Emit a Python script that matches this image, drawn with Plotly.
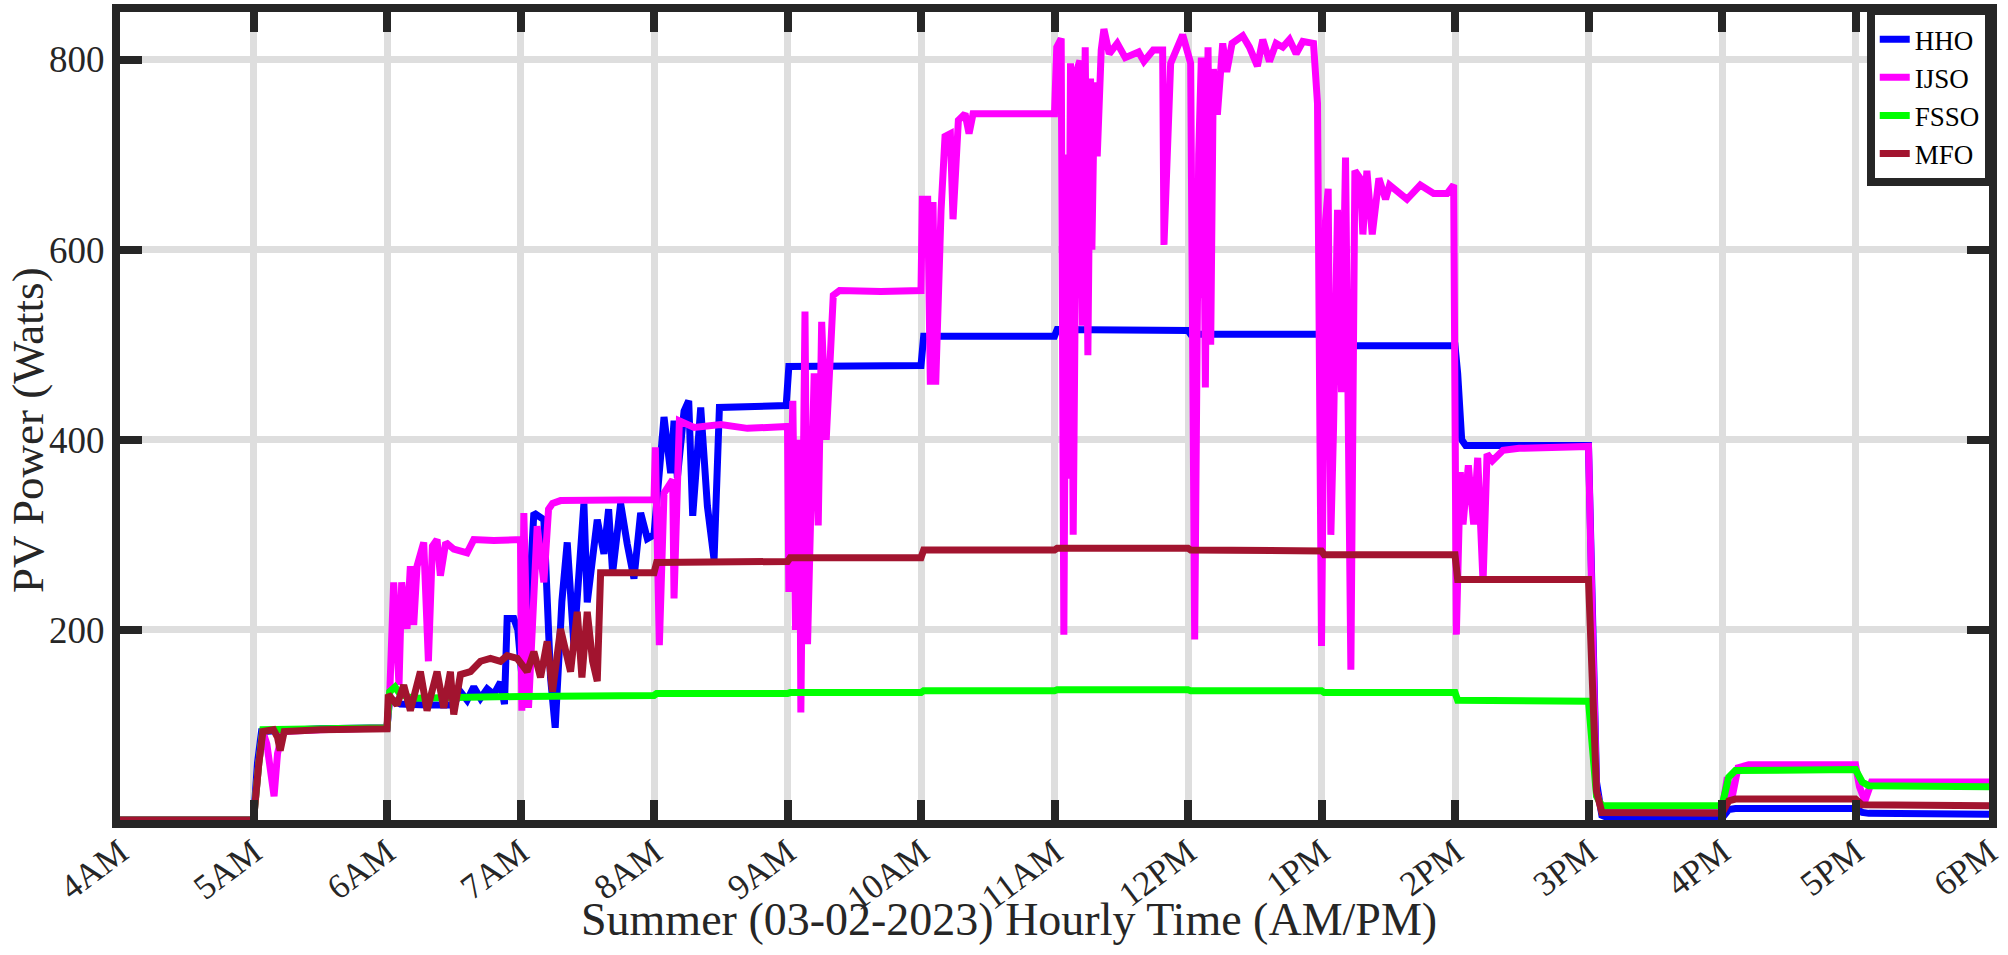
import plotly.graph_objects as go

# ---- data (hour of day, watts) ----
tick_hours = [4, 5, 6, 7, 8, 9, 10, 11, 12, 13, 14, 15, 16, 17, 18]
tick_labels = ["4AM", "5AM", "6AM", "7AM", "8AM", "9AM", "10AM", "11AM",
               "12PM", "1PM", "2PM", "3PM", "4PM", "5PM", "6PM"]
y_ticks = [200, 400, 600, 800]

hho_t = [4.0, 5.0, 5.03, 5.06, 5.5, 6.0, 6.02, 6.1, 6.3, 6.5, 6.55, 6.6, 6.65, 6.7, 6.75,
         6.8, 6.85, 6.88, 6.9, 6.95, 6.98, 7.025, 7.1, 7.175, 7.225, 7.26, 7.31, 7.35,
         7.4, 7.475, 7.5, 7.575, 7.625, 7.66, 7.69, 7.75, 7.8, 7.85, 7.9, 7.95, 8.0,
         8.04, 8.075, 8.125, 8.15, 8.175, 8.225, 8.26, 8.29, 8.35, 8.4, 8.45, 8.49,
         8.99, 9.01, 10.0, 10.02, 11.0, 11.02, 12.0, 12.02, 13.0, 13.02, 14.0, 14.02,
         14.05, 14.08, 15.0, 15.03, 15.06, 15.1, 15.15, 16.0, 16.05, 16.1, 17.0, 17.05,
         17.1, 18.0]
hho_v = [0, 0, 60, 93, 96, 97, 128, 122, 121, 121, 135, 126, 140, 128, 138,
         132, 145, 122, 212, 212, 200, 128, 323, 316, 150, 97, 230, 292,
         184, 333, 229, 316, 280, 327, 260, 333, 290, 254, 323, 296, 300,
         370, 424, 365, 420, 360, 430, 441, 320, 434, 330, 274, 434,
         436, 477, 478, 509, 509, 516, 515, 511, 511, 499, 499, 470,
         400, 394, 394, 200, 40, 5, 2, 2, 11, 12, 12, 8,
         7, 6]

ijso_t = [4.0, 5.0, 5.04, 5.07, 5.1, 5.154, 5.18, 5.22, 5.5, 6.0,
          6.02, 6.05, 6.09, 6.11, 6.15, 6.175, 6.2, 6.225, 6.275, 6.31, 6.34, 6.375,
          6.4, 6.44, 6.5, 6.6, 6.65, 6.8, 7.0,
          7.01, 7.025, 7.06, 7.125, 7.175, 7.21, 7.24, 7.3, 7.6, 8.0,
          8.01, 8.04, 8.075, 8.14, 8.15, 8.19, 8.3, 8.5, 8.7, 9.0,
          9.01, 9.04, 9.06, 9.09, 9.1, 9.12, 9.131, 9.15, 9.2, 9.23, 9.256, 9.29,
          9.343, 9.39, 9.7, 10.0,
          10.01, 10.05, 10.07, 10.09, 10.11, 10.15, 10.18, 10.22, 10.24, 10.28,
          10.33, 10.36, 10.39, 10.7, 11.0,
          11.017, 11.05, 11.07, 11.09, 11.1, 11.12, 11.14, 11.15, 11.17, 11.19,
          11.21, 11.23, 11.25, 11.27, 11.28, 11.3, 11.32,
          11.35, 11.37, 11.41, 11.47, 11.53, 11.63, 11.67, 11.74, 11.81, 11.82,
          11.87, 11.96, 12.02, 12.05, 12.08, 12.1, 12.11, 12.12, 12.13, 12.15,
          12.17, 12.19, 12.22, 12.26,
          12.29, 12.33, 12.41, 12.46, 12.52, 12.56, 12.61, 12.66, 12.71, 12.76,
          12.81, 12.86, 12.94, 12.97, 13.0, 13.03, 13.05, 13.07, 13.09, 13.12,
          13.15, 13.18, 13.22, 13.25, 13.29, 13.31, 13.34, 13.38, 13.43, 13.48,
          13.51, 13.58, 13.64, 13.74, 13.84, 13.94, 13.99,
          14.01, 14.04, 14.06, 14.1, 14.14, 14.17, 14.21, 14.24, 14.28, 14.36,
          14.48, 15.0, 15.03, 15.06, 15.1, 16.0, 16.04, 16.07, 16.12, 16.2,
          17.0, 17.03, 17.07, 17.12, 18.0]
ijso_v = [0, 0, 60, 93, 80, 25, 70, 93, 95, 97,
          131, 250, 142, 250, 201, 267, 205, 267, 292, 167, 288, 295,
          257, 292, 285, 281, 295, 294, 295,
          115, 323, 118, 309, 250, 327, 333, 336, 336, 337,
          392, 184, 344, 358, 233, 420, 413, 416, 412, 414,
          240, 441, 200, 400, 113, 450, 535, 185, 470, 310, 524, 400,
          552, 557, 556, 557,
          653, 653, 458, 650, 458, 641, 719, 722, 632, 736,
          743, 722, 743, 743, 743,
          813, 822, 195, 700, 359, 796, 300, 448, 790, 799,
          520, 813, 489, 780, 600, 776, 698,
          810, 832, 806, 817, 802, 808, 798, 810, 810, 605,
          796, 826, 796, 190, 700, 802, 549, 638, 455, 813,
          500, 790, 742, 817,
          787, 817, 825, 813, 793, 821, 798, 817, 813, 821,
          806, 819, 817, 754, 183, 630, 664, 300, 411, 642,
          450, 697, 158, 683, 675, 616, 683, 616, 675, 653,
          668, 660, 653, 668, 659, 659, 668,
          195, 366, 311, 373, 311, 381, 250, 385, 378, 389,
          391, 393, 200, 30, 10, 11, 45, 20, 55, 58,
          58, 35, 20, 40, 40]

fsso_t = [4.0, 5.0, 5.04, 5.07, 6.0, 6.02, 6.06, 6.1, 6.2, 6.5, 7.0, 8.0, 8.02, 9.0,
          9.02, 10.0, 10.02, 11.0, 11.02, 12.0, 12.02, 13.0, 13.02, 14.0, 14.02,
          15.0, 15.03, 15.06, 15.1, 16.0, 16.05, 16.1, 17.0, 17.05, 17.1, 18.0]
fsso_v = [0, 0, 60, 95, 97, 135, 140, 132, 128, 129, 130, 131, 133, 133,
          134, 134, 136, 136, 137, 137, 136, 136, 134, 134, 126,
          125, 80, 25, 15, 15, 45, 52, 53, 40, 36, 35]

mfo_t = [4.0, 5.0, 5.04, 5.07, 5.15, 5.18, 5.2, 5.23, 5.5, 6.0,
         6.01, 6.075, 6.125, 6.175, 6.25, 6.3, 6.375, 6.425, 6.475, 6.5, 6.55,
         6.625, 6.7, 6.775, 6.85, 6.9, 6.975, 7.05, 7.1, 7.15, 7.2, 7.24, 7.3,
         7.375, 7.425, 7.46, 7.5, 7.54, 7.575, 7.6, 8.0, 8.02, 9.0, 9.02, 10.0,
         10.02, 11.0, 11.02, 12.0, 12.02, 13.0, 13.02, 14.0, 14.02, 15.0, 15.03,
         15.06, 15.1, 16.0, 16.05, 16.1, 17.0, 17.05, 18.0]
mfo_v = [0, 0, 60, 93, 95, 87, 73, 93, 95, 96,
         132, 121, 142, 115, 156, 115, 156, 118, 156, 111, 153,
         156, 167, 170, 167, 173, 170, 156, 177, 150, 188, 135, 201,
         156, 219, 150, 219, 167, 146, 260, 260, 271, 272, 276, 276,
         284, 284, 286, 286, 284, 283, 279, 279, 253, 253, 150,
         30, 8, 7, 20, 22, 22, 16, 15]

series = [
    ("HHO", hho_t, hho_v, "#0000FF"),
    ("IJSO", ijso_t, ijso_v, "#FF00FF"),
    ("FSSO", fsso_t, fsso_v, "#00FF00"),
    ("MFO", mfo_t, mfo_v, "#A2142F"),
]

FONT = "Liberation Serif, Times New Roman, serif"
AX = "#262626"
GRID = "#dedede"

# plot-area geometry in pixels
W, H = 2008, 955
L, R, T, B = 120, 18, 4, 135
PW, PH = W - L - R, H - T - B

fig = go.Figure()
for name, t, v, c in series:
    fig.add_trace(go.Scatter(x=t, y=v, mode="lines", name=name,
                             line=dict(color=c, width=7)))

fig.update_layout(
    width=W, height=H,
    margin=dict(l=L, r=R, t=T, b=B),
    paper_bgcolor="white", plot_bgcolor="white",
    font=dict(family=FONT, color=AX),
    showlegend=True,
    legend=dict(x=1.002, y=1.006, xanchor="right", yanchor="top",
                bgcolor="white", bordercolor=AX, borderwidth=8,
                font=dict(family=FONT, size=27, color="black"),
                tracegroupgap=0, itemwidth=30),
    annotations=[
        dict(text="Summer (03-02-2023) Hourly Time (AM/PM)",
             x=(1009 - L) / PW, y=(H - B - 920) / PH, xref="paper", yref="paper",
             xanchor="center", yanchor="middle", showarrow=False,
             font=dict(size=46, family=FONT, color=AX)),
        dict(text="PV Power (Watts)", textangle=-90,
             x=(28 - L) / PW, y=(H - B - 426) / PH, xref="paper", yref="paper",
             xanchor="center", yanchor="middle", showarrow=False,
             font=dict(size=45, family=FONT, color=AX)),
    ],
)
fig.update_xaxes(
    range=[4, 18], tickmode="array", tickvals=tick_hours, ticktext=tick_labels,
    tickangle=-37, tickfont=dict(size=35, family=FONT, color=AX),
    ticklabelstandoff=-10,
    showgrid=True, gridcolor=GRID, gridwidth=7,
    showline=True, linecolor=AX, linewidth=8, mirror="ticks",
    ticks="inside", ticklen=20, tickwidth=8, tickcolor=AX, zeroline=False,
)
fig.update_yaxes(
    range=[0, 850], tickmode="array", tickvals=y_ticks,
    tickfont=dict(size=37, family=FONT, color=AX),
    showgrid=True, gridcolor=GRID, gridwidth=7,
    showline=True, linecolor=AX, linewidth=8, mirror="ticks",
    ticks="inside", ticklen=22, tickwidth=8, tickcolor=AX, zeroline=False,
)

fig.write_html("out.html", config={"displayModeBar": False},
               post_script="document.body.style.margin='0';document.body.style.padding='0';")
